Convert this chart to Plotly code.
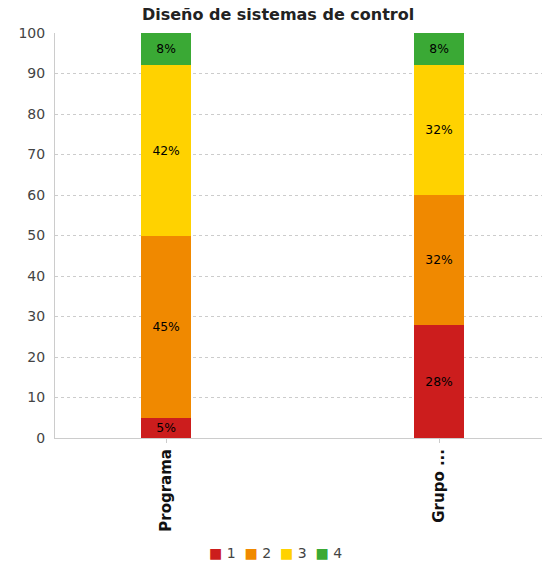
import plotly.graph_objects as go

# Survey results per group (percent)
categories = ["Programa", "Grupo ..."]
levels = ["1", "2", "3", "4"]
values = {
    "1": [5, 28],
    "2": [45, 32],
    "3": [42, 32],
    "4": [8, 8],
}
colors = {"1": "#cc1d1d", "2": "#f08900", "3": "#ffd200", "4": "#3aa935"}
y_ticks = list(range(0, 101, 10))

fig = go.Figure()
for lvl in levels:
    fig.add_trace(go.Bar(
        name=lvl,
        x=categories,
        y=values[lvl],
        marker=dict(color=colors[lvl], line=dict(width=0)),
        width=0.185,
        text=[f"{v}%" for v in values[lvl]],
        textposition="inside",
        insidetextanchor="middle",
        textfont=dict(color="black", size=13, family="DejaVu Sans"),
        hoverinfo="skip",
        showlegend=False,
    ))

# compact legend like the original: coloured squares as text
legend_text = "&nbsp;&nbsp;".join(
    f"<span style='color:{colors[l]}'>■</span> {l}" for l in levels
)

fig.update_layout(
    barmode="stack",
    width=542, height=564,
    plot_bgcolor="white", paper_bgcolor="white",
    margin=dict(l=55, r=0, t=33, b=126),
    title=dict(text="<b>Diseño de sistemas de control</b>", x=0.513, xanchor="center",
               y=0.975, yanchor="middle",
               font=dict(size=16, color="#222", family="DejaVu Sans")),
    font=dict(family="DejaVu Sans", size=13, color="#444"),
    annotations=[dict(text=legend_text, xref="paper", yref="paper", x=0.452, y=-0.284,
                      xanchor="center", yanchor="middle", showarrow=False,
                      font=dict(size=14, color="#444"))],
    uniformtext=dict(minsize=10, mode="show"),
)
fig.update_yaxes(range=[0, 100], tickvals=y_ticks, showgrid=True, gridcolor="#cccccc",
                 griddash="dot", showline=True, linecolor="#cccccc", zeroline=False,
                 ticks="", ticklabelstandoff=6, tickfont=dict(size=14, color="#444"))
fig.update_xaxes(range=[-0.407, 1.377], tickangle=-90, showline=True, linecolor="#cccccc",
                 ticks="outside", ticklen=4, tickcolor="#cccccc",
                 tickvals=categories, ticktext=[f"<b>{c}</b>" for c in categories],
                 tickfont=dict(size=15, color="#111"))

# drop the default page margin so the figure fills the window
fig.write_html("out.html", config={"displayModeBar": False},
               post_script="document.body.style.margin='0';document.body.style.overflow='hidden';")
